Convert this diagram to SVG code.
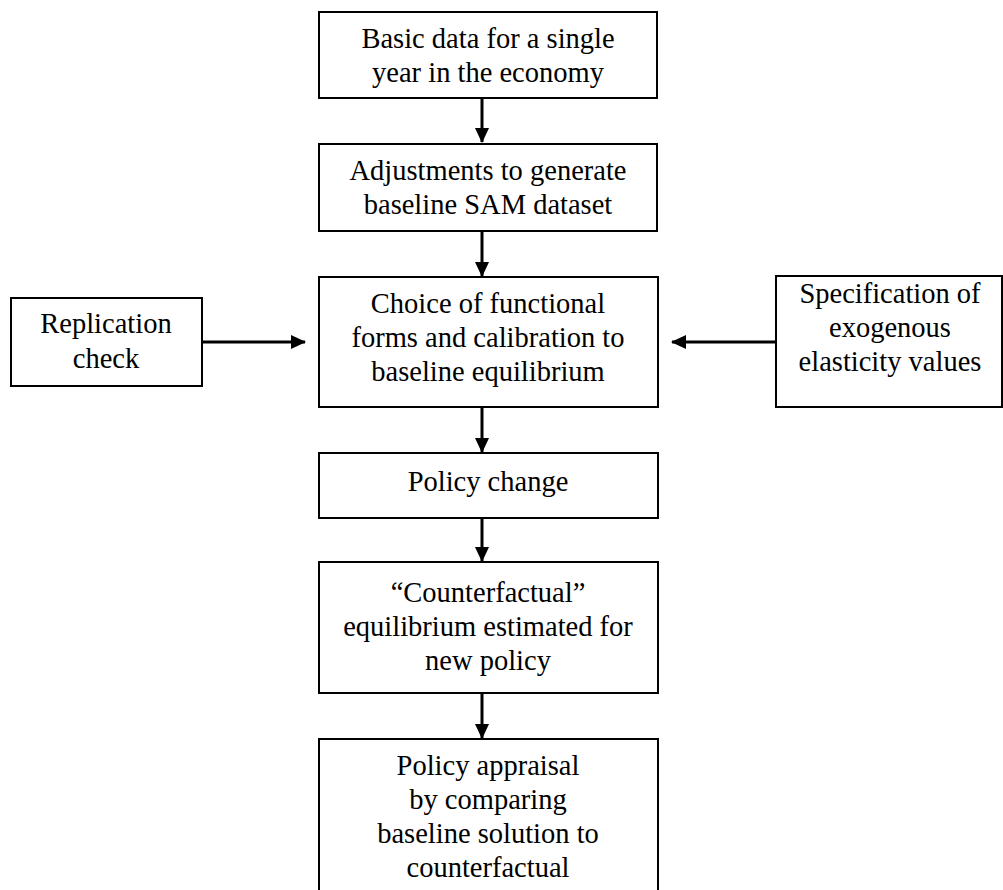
<svg xmlns="http://www.w3.org/2000/svg" width="1003" height="890" viewBox="0 0 1003 890">
<style>
.box{fill:#fff;stroke:#000;stroke-width:2}
.t{font-family:'Liberation Serif','Times New Roman',Tinos,'DejaVu Serif',serif;font-size:28.5px;fill:#000;text-anchor:middle}
.c{stroke:#000;stroke-width:3;fill:none}
</style>
<defs>
<marker id="ah" markerUnits="userSpaceOnUse" markerWidth="16" markerHeight="16" refX="14" refY="8" orient="auto">
<path d="M0,1 L15,8 L0,15 Z" fill="#000"/>
</marker>
</defs>
<rect width="1003" height="890" fill="#fff"/>
<g id="connectors">
<line class="c" x1="482" y1="98" x2="482" y2="142" marker-end="url(#ah)"/>
<line class="c" x1="482" y1="231" x2="482" y2="276" marker-end="url(#ah)"/>
<line class="c" x1="482" y1="407" x2="482" y2="452" marker-end="url(#ah)"/>
<line class="c" x1="482" y1="518" x2="482" y2="561" marker-end="url(#ah)"/>
<line class="c" x1="482" y1="693" x2="482" y2="738" marker-end="url(#ah)"/>
<line class="c" x1="202" y1="342" x2="305" y2="342" marker-end="url(#ah)"/>
<line class="c" x1="776" y1="342" x2="672" y2="342" marker-end="url(#ah)"/>
</g>
<g id="n1">
<rect class="box" x="319" y="12" width="338" height="86"/>
<text class="t" x="488" y="48">Basic data for a single</text>
<text class="t" x="488" y="82">year in the economy</text>
</g>
<g id="n2">
<rect class="box" x="319" y="144" width="338" height="87"/>
<text class="t" x="488" y="180">Adjustments to generate</text>
<text class="t" x="488" y="214">baseline SAM dataset</text>
</g>
<g id="n3">
<rect class="box" x="319" y="277" width="339" height="130"/>
<text class="t" x="488" y="313">Choice of functional</text>
<text class="t" x="488" y="347">forms and calibration to</text>
<text class="t" x="488" y="381">baseline equilibrium</text>
</g>
<g id="n4">
<rect class="box" x="11" y="298" width="191" height="88"/>
<text class="t" x="106" y="333">Replication</text>
<text class="t" x="106" y="368">check</text>
</g>
<g id="n5">
<rect class="box" x="776" y="276" width="226" height="131"/>
<text class="t" x="890" y="303">Specification of</text>
<text class="t" x="890" y="337">exogenous</text>
<text class="t" x="890" y="371">elasticity values</text>
</g>
<g id="n6">
<rect class="box" x="319" y="453" width="339" height="65"/>
<text class="t" x="488" y="491">Policy change</text>
</g>
<g id="n7">
<rect class="box" x="319" y="562" width="339" height="131"/>
<text class="t" x="488" y="602">“Counterfactual”</text>
<text class="t" x="488" y="636">equilibrium estimated for</text>
<text class="t" x="488" y="670">new policy</text>
</g>
<g id="n8">
<rect class="box" x="319" y="739" width="339" height="170"/>
<text class="t" x="488" y="775">Policy appraisal</text>
<text class="t" x="488" y="809">by comparing</text>
<text class="t" x="488" y="843">baseline solution to</text>
<text class="t" x="488" y="877">counterfactual</text>
</g>
</svg>
